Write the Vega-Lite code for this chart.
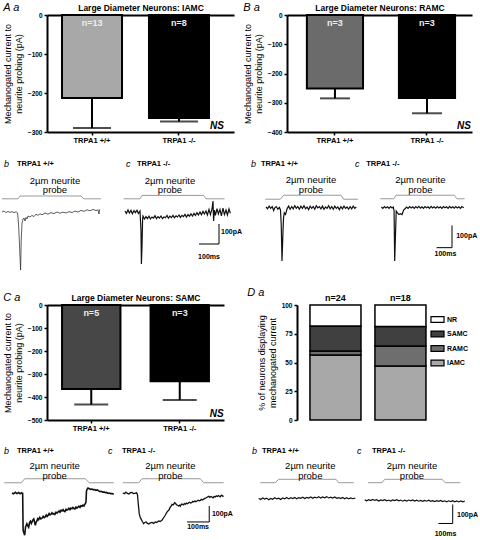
{
"$schema": "https://vega.github.io/schema/vega-lite/v6.json",
"padding": {"left": 0, "top": 2, "right": 0, "bottom": 0},
"autosize": {"type": "pad"},
"spacing": 14,
"resolve": {"scale": {"fill": "independent"}, "legend": {"fill": "independent"}},
"config": {
 "font": "Liberation Sans",
 "view": {"stroke": null},
 "axis": {"domainColor": "#000", "domainWidth": 2, "tickColor": "#000", "tickWidth": 1.5, "tickSize": 3, "labelColor": "#000", "labelFontSize": 6.5, "labelFontWeight": "bold", "labelPadding": 2, "labelOverlap": false, "titleColor": "#000", "titleFontSize": 9, "titleFontWeight": "normal", "titlePadding": 4, "grid": false},
 "title": {"color": "#000"},
 "text": {"color": "#000"}
},
"vconcat": [
 {"bounds": "flush", "spacing": 53, "resolve": {"scale": {"fill": "independent"}, "legend": {"fill": "independent"}}, "hconcat": [
  {"width": 187, "height": 117,
   "title": {"text": "A a", "anchor": "start", "frame": "bounds", "fontSize": 11, "fontStyle": "italic", "fontWeight": "normal", "offset": -10},
   "data": {"values": [
     {"genotype": "TRPA1 +/+", "mean": -213, "lower": -290, "n": "n=13"},
     {"genotype": "TRPA1 -/-", "mean": -264, "lower": -273, "n": "n=8"}]},
   "resolve": {"axis": {"x": "independent"}},
   "layer": [
    {"mark": {"type": "rule", "strokeWidth": 2, "color": "black"}, "encoding": {"x": {"field": "genotype", "type": "nominal", "axis": null}, "y": {"field": "mean", "type": "quantitative", "scale": {"domain": [-300, 0], "nice": false}, "axis": {"title": ["Mechanogated current to", "neurite probing (pA)"], "values": [0, -100, -200, -300], "labelFlush": false, "labelOverlap": false}}, "y2": {"field": "lower"}}},
    {"mark": {"type": "tick", "thickness": 2, "size": 38, "color": "black"}, "encoding": {"x": {"field": "genotype", "type": "nominal", "axis": null}, "y": {"field": "lower", "type": "quantitative", "axis": {"title": ["Mechanogated current to", "neurite probing (pA)"], "values": [0, -100, -200, -300], "labelFlush": false, "labelOverlap": false}}}},
    {"mark": {"type": "bar", "stroke": "black", "strokeWidth": 2},
     "encoding": {
      "x": {"field": "genotype", "type": "nominal", "scale": {"paddingInner": 0.31, "paddingOuter": 0.23, "align": 0.375}, "axis": {"title": null, "labelAngle": 0, "labelFontSize": 7.5, "labelPadding": 1}},
      "y": {"field": "mean", "type": "quantitative", "axis": {"title": ["Mechanogated current to", "neurite probing (pA)"], "values": [0, -100, -200, -300], "labelFlush": false, "labelOverlap": false}},
      "fill": {"field": "genotype", "type": "nominal", "scale": {"range": ["#a8a8a8", "#000000"]}, "legend": null}}},
    {"mark": {"type": "text", "baseline": "top", "dy": 4, "fontSize": 9, "fontWeight": "bold", "color": "#eeeeee"}, "encoding": {"x": {"field": "genotype", "type": "nominal", "axis": {"orient": "top", "title": "Large Diameter Neurons: IAMC", "labels": false, "ticks": false, "titleFontSize": 8.5, "titleFontWeight": "bold", "titlePadding": 3}}, "y": {"datum": 0, "type": "quantitative", "axis": {"title": ["Mechanogated current to", "neurite probing (pA)"], "values": [0, -100, -200, -300], "labelFlush": false, "labelOverlap": false}}, "text": {"field": "n"}}},
    {"data": {"values": [{"stat": "NS"}]}, "mark": {"type": "text", "align": "right", "baseline": "bottom", "dx": 45, "dy": -1, "fontSize": 10, "fontWeight": "bold", "fontStyle": "italic"}, "encoding": {"x": {"datum": "TRPA1 -/-", "axis": null}, "y": {"datum": -300, "type": "quantitative", "axis": {"title": ["Mechanogated current to", "neurite probing (pA)"], "values": [0, -100, -200, -300], "labelFlush": false, "labelOverlap": false}}, "text": {"field": "stat"}}}
   ]},
  {"width": 185, "height": 117,
   "title": {"text": "B a", "anchor": "start", "frame": "bounds", "fontSize": 11, "fontStyle": "italic", "fontWeight": "normal", "offset": -10},
   "data": {"values": [
     {"genotype": "TRPA1 +/+", "mean": -251, "lower": -285, "n": "n=3"},
     {"genotype": "TRPA1 -/-", "mean": -284, "lower": -336, "n": "n=3"}]},
   "resolve": {"axis": {"x": "independent"}},
   "layer": [
    {"mark": {"type": "rule", "strokeWidth": 2, "color": "black"}, "encoding": {"x": {"field": "genotype", "type": "nominal", "axis": null}, "y": {"field": "mean", "type": "quantitative", "scale": {"domain": [-400, 0], "nice": false}, "axis": {"title": ["Mechanogated current to", "neurite probing (pA)"], "values": [0, -100, -200, -300, -400], "labelFlush": false, "labelOverlap": false}}, "y2": {"field": "lower"}}},
    {"mark": {"type": "tick", "thickness": 2, "size": 30, "color": "black"}, "encoding": {"x": {"field": "genotype", "type": "nominal", "axis": null}, "y": {"field": "lower", "type": "quantitative", "axis": {"title": ["Mechanogated current to", "neurite probing (pA)"], "values": [0, -100, -200, -300, -400], "labelFlush": false, "labelOverlap": false}}}},
    {"mark": {"type": "bar", "stroke": "black", "strokeWidth": 2},
     "encoding": {
      "x": {"field": "genotype", "type": "nominal", "scale": {"paddingInner": 0.39, "paddingOuter": 0.2, "align": 0.54}, "axis": {"title": null, "labelAngle": 0, "labelFontSize": 7.5, "labelPadding": 1}},
      "y": {"field": "mean", "type": "quantitative", "axis": {"title": ["Mechanogated current to", "neurite probing (pA)"], "values": [0, -100, -200, -300, -400], "labelFlush": false, "labelOverlap": false}},
      "fill": {"field": "genotype", "type": "nominal", "scale": {"range": ["#6b6b6b", "#000000"]}, "legend": null}}},
    {"mark": {"type": "text", "baseline": "top", "dy": 4, "fontSize": 9, "fontWeight": "bold", "color": "#eeeeee"}, "encoding": {"x": {"field": "genotype", "type": "nominal", "axis": {"orient": "top", "title": "Large Diameter Neurons: RAMC", "labels": false, "ticks": false, "titleFontSize": 8.5, "titleFontWeight": "bold", "titlePadding": 3}}, "y": {"datum": 0, "type": "quantitative", "axis": {"title": ["Mechanogated current to", "neurite probing (pA)"], "values": [0, -100, -200, -300, -400], "labelFlush": false, "labelOverlap": false}}, "text": {"field": "n"}}},
    {"data": {"values": [{"stat": "NS"}]}, "mark": {"type": "text", "align": "right", "baseline": "bottom", "dx": 44, "dy": -1, "fontSize": 10, "fontWeight": "bold", "fontStyle": "italic"}, "encoding": {"x": {"datum": "TRPA1 -/-", "axis": null}, "y": {"datum": -400, "type": "quantitative", "axis": {"title": ["Mechanogated current to", "neurite probing (pA)"], "values": [0, -100, -200, -300, -400], "labelFlush": false, "labelOverlap": false}}, "text": {"field": "stat"}}}
   ]}
 ]},
 {"bounds": "flush", "spacing": 0, "hconcat": [
  {"width": 75, "height": 115,
   "data": {"values": [{"panel": "b", "genotype": "TRPA1 +/+", "probe": "2µm neurite\nprobe"}]},
   "layer": [
    {"data": {"values": [{"t":0,"i":61},{"t":80,"i":61},{"t":90,"i":75},{"t":395,"i":75},{"t":410,"i":61},{"t":495,"i":61}]},
     "mark": {"type": "line", "color": "#999999", "strokeWidth": 1},
     "encoding": {"x": {"field": "t", "type": "quantitative", "scale": {"domain": [225, 600], "nice": false, "zero": false}, "axis": null}, "y": {"field": "i", "type": "quantitative", "scale": {"domain": [-310, 265], "nice": false, "zero": false}, "axis": null}}},
    {"data": {"values": [{"t":0,"i":-5},{"t":10,"i":0},{"t":20,"i":-8},{"t":30,"i":-2},{"t":40,"i":-7},{"t":50,"i":-3},{"t":60,"i":-8},{"t":70,"i":-4},{"t":78,"i":-10},{"t":83,"i":-70},{"t":88,"i":-180},{"t":93,"i":-295},{"t":96,"i":-150},{"t":100,"i":-60},{"t":105,"i":-40},{"t":110,"i":-35},{"t":115,"i":-50},{"t":120,"i":-32},{"t":125,"i":-40},{"t":130,"i":-25},{"t":140,"i":-30},{"t":150,"i":-22},{"t":160,"i":-28},{"t":170,"i":-16},{"t":180,"i":-22},{"t":190,"i":-14},{"t":200,"i":-19},{"t":215,"i":-10},{"t":230,"i":-16},{"t":245,"i":-8},{"t":260,"i":-13},{"t":275,"i":-5},{"t":290,"i":-11},{"t":305,"i":-6},{"t":320,"i":-10},{"t":335,"i":-3},{"t":350,"i":-8},{"t":365,"i":0},{"t":380,"i":-5},{"t":395,"i":3},{"t":410,"i":-2},{"t":425,"i":6},{"t":440,"i":1},{"t":455,"i":8},{"t":470,"i":2},{"t":480,"i":6},{"t":485,"i":-15},{"t":488,"i":8}]},
     "mark": {"type": "line", "color": "#333333", "strokeWidth": 0.8},
     "encoding": {"x": {"field": "t", "type": "quantitative", "axis": null}, "y": {"field": "i", "type": "quantitative", "axis": null}}},
    {"mark": {"type": "text", "fontStyle": "italic", "fontSize": 9, "align": "left", "baseline": "middle"}, "encoding": {"x": {"datum": 10, "axis": null}, "y": {"datum": 236.5, "axis": null}, "text": {"field": "panel"}}},
    {"mark": {"type": "text", "fontWeight": "bold", "fontSize": 7.5, "align": "left", "baseline": "middle"}, "encoding": {"x": {"datum": 75, "axis": null}, "y": {"datum": 236.5, "axis": null}, "text": {"field": "genotype"}}},
    {"mark": {"type": "text", "fontSize": 9.5, "align": "center", "baseline": "alphabetic", "lineBreak": "\n", "lineHeight": 9.5}, "encoding": {"x": {"datum": 265, "axis": null}, "y": {"datum": 137.5, "axis": null}, "text": {"field": "probe"}}}
   ]},
  {"width": 120, "height": 115,
   "data": {"values": [{"panel": "c", "genotype": "TRPA1 -/-", "probe": "2µm neurite\nprobe", "vbar": "100pA", "hbar": "100ms"}]},
   "layer": [
    {"data": {"values": [{"t":8,"i":61},{"t":90,"i":61},{"t":100,"i":78},{"t":408,"i":78},{"t":420,"i":61},{"t":513,"i":61}]},
     "mark": {"type": "line", "color": "#999999", "strokeWidth": 1},
     "encoding": {"x": {"field": "t", "type": "quantitative", "scale": {"domain": [0, 600], "nice": false, "zero": false}, "axis": null}, "y": {"field": "i", "type": "quantitative", "scale": {"domain": [-310, 265], "nice": false, "zero": false}, "axis": null}}},
    {"data": {"values": [{"t":15,"i":0},{"t":22,"i":-12},{"t":30,"i":5},{"t":37,"i":-10},{"t":45,"i":3},{"t":52,"i":-14},{"t":60,"i":2},{"t":67,"i":-8},{"t":75,"i":4},{"t":82,"i":-12},{"t":90,"i":0},{"t":95,"i":-100},{"t":97,"i":-265},{"t":100,"i":-180},{"t":103,"i":-40},{"t":105,"i":-25},{"t":112,"i":-40},{"t":120,"i":-28},{"t":127,"i":-38},{"t":135,"i":-26},{"t":142,"i":-40},{"t":150,"i":-30},{"t":157,"i":-36},{"t":165,"i":-24},{"t":172,"i":-38},{"t":180,"i":-28},{"t":187,"i":-35},{"t":195,"i":-25},{"t":202,"i":-38},{"t":210,"i":-30},{"t":217,"i":-34},{"t":225,"i":-22},{"t":232,"i":-36},{"t":240,"i":-26},{"t":247,"i":-33},{"t":255,"i":-22},{"t":262,"i":-34},{"t":270,"i":-24},{"t":277,"i":-30},{"t":285,"i":-20},{"t":292,"i":-32},{"t":300,"i":-22},{"t":307,"i":-28},{"t":315,"i":-17},{"t":322,"i":-30},{"t":330,"i":-18},{"t":337,"i":-26},{"t":345,"i":-14},{"t":352,"i":-25},{"t":360,"i":-12},{"t":367,"i":-22},{"t":375,"i":-8},{"t":382,"i":-20},{"t":390,"i":-5},{"t":397,"i":-18},{"t":405,"i":-2},{"t":412,"i":-15},{"t":420,"i":0},{"t":427,"i":-20},{"t":435,"i":8},{"t":442,"i":-18},{"t":450,"i":10},{"t":455,"i":50},{"t":458,"i":-50},{"t":462,"i":5},{"t":467,"i":-22},{"t":475,"i":12},{"t":482,"i":-15},{"t":490,"i":8},{"t":497,"i":-25},{"t":505,"i":15},{"t":512,"i":-18},{"t":520,"i":5},{"t":527,"i":-20},{"t":535,"i":10},{"t":542,"i":-12}]},
     "mark": {"type": "line", "color": "#111111", "strokeWidth": 1.2},
     "encoding": {"x": {"field": "t", "type": "quantitative", "axis": null}, "y": {"field": "i", "type": "quantitative", "axis": null}}},
    {"mark": {"type": "text", "fontStyle": "italic", "fontSize": 9, "align": "left", "baseline": "middle"}, "encoding": {"x": {"datum": 20, "axis": null}, "y": {"datum": 236.5, "axis": null}, "text": {"field": "panel"}}},
    {"mark": {"type": "text", "fontWeight": "bold", "fontSize": 7.5, "align": "left", "baseline": "middle"}, "encoding": {"x": {"datum": 75, "axis": null}, "y": {"datum": 236.5, "axis": null}, "text": {"field": "genotype"}}},
    {"mark": {"type": "text", "fontSize": 9.5, "align": "center", "baseline": "alphabetic", "lineBreak": "\n", "lineHeight": 9.5}, "encoding": {"x": {"datum": 240, "axis": null}, "y": {"datum": 137.5, "axis": null}, "text": {"field": "probe"}}},
    {"mark": {"type": "rule", "color": "#000", "strokeWidth": 1}, "encoding": {"x": {"datum": 485, "axis": null}, "y": {"datum": -65, "axis": null}, "y2": {"datum": -165}}},
    {"mark": {"type": "rule", "color": "#000", "strokeWidth": 1}, "encoding": {"x": {"datum": 385, "axis": null}, "x2": {"datum": 485}, "y": {"datum": -165, "axis": null}}},
    {"mark": {"type": "text", "fontWeight": "bold", "fontSize": 7, "align": "left", "baseline": "middle"}, "encoding": {"x": {"datum": 495, "axis": null}, "y": {"datum": -105, "axis": null}, "text": {"field": "vbar"}}},
    {"mark": {"type": "text", "fontWeight": "bold", "fontSize": 7, "align": "center", "baseline": "middle"}, "encoding": {"x": {"datum": 435, "axis": null}, "y": {"datum": -228, "axis": null}, "text": {"field": "hbar"}}}
   ]},
  {"width": 115, "height": 115,
   "data": {"values": [{"panel": "b", "genotype": "TRPA1 +/+", "probe": "2µm neurite\nprobe"}]},
   "layer": [
    {"data": {"values": [{"t":151,"i":53},{"t":249,"i":53},{"t":271,"i":71},{"t":644,"i":71},{"t":660,"i":53},{"t":753,"i":53}]},
     "mark": {"type": "line", "color": "#999999", "strokeWidth": 1},
     "encoding": {"x": {"field": "t", "type": "quantitative", "scale": {"domain": [0, 747.5], "nice": false, "zero": false}, "axis": null}, "y": {"field": "i", "type": "quantitative", "scale": {"domain": [-279, 238.5], "nice": false, "zero": false}, "axis": null}}},
    {"data": {"values": [{"t":156,"i":18},{"t":166,"i":10},{"t":176,"i":22},{"t":186,"i":12},{"t":196,"i":20},{"t":206,"i":2},{"t":213,"i":14},{"t":223,"i":20},{"t":233,"i":8},{"t":243,"i":16},{"t":250,"i":5},{"t":255,"i":-60},{"t":260,"i":-225},{"t":265,"i":-120},{"t":270,"i":-30},{"t":275,"i":-8},{"t":283,"i":-15},{"t":293,"i":10},{"t":303,"i":22},{"t":313,"i":8},{"t":323,"i":20},{"t":333,"i":10},{"t":343,"i":24},{"t":353,"i":12},{"t":363,"i":20},{"t":373,"i":8},{"t":383,"i":22},{"t":393,"i":12},{"t":403,"i":24},{"t":413,"i":10},{"t":423,"i":18},{"t":433,"i":6},{"t":443,"i":22},{"t":453,"i":12},{"t":463,"i":20},{"t":473,"i":8},{"t":483,"i":24},{"t":493,"i":14},{"t":503,"i":20},{"t":513,"i":10},{"t":523,"i":22},{"t":533,"i":8},{"t":543,"i":18},{"t":553,"i":12},{"t":563,"i":24},{"t":573,"i":10},{"t":583,"i":20},{"t":593,"i":8},{"t":603,"i":22},{"t":613,"i":12},{"t":623,"i":18},{"t":633,"i":6},{"t":643,"i":20},{"t":653,"i":10},{"t":663,"i":22},{"t":673,"i":12},{"t":683,"i":18},{"t":693,"i":8},{"t":703,"i":20},{"t":713,"i":10},{"t":723,"i":22},{"t":733,"i":12},{"t":743,"i":18}]},
     "mark": {"type": "line", "color": "#111111", "strokeWidth": 1.2},
     "encoding": {"x": {"field": "t", "type": "quantitative", "axis": null}, "y": {"field": "i", "type": "quantitative", "axis": null}}},
    {"mark": {"type": "text", "fontStyle": "italic", "fontSize": 9, "align": "left", "baseline": "middle"}, "encoding": {"x": {"datum": 58.5, "axis": null}, "y": {"datum": 213, "axis": null}, "text": {"field": "panel"}}},
    {"mark": {"type": "text", "fontWeight": "bold", "fontSize": 7.5, "align": "left", "baseline": "middle"}, "encoding": {"x": {"datum": 123, "axis": null}, "y": {"datum": 213, "axis": null}, "text": {"field": "genotype"}}},
    {"mark": {"type": "text", "fontSize": 9.5, "align": "center", "baseline": "alphabetic", "lineBreak": "\n", "lineHeight": 9.5}, "encoding": {"x": {"datum": 448.5, "axis": null}, "y": {"datum": 124, "axis": null}, "text": {"field": "probe"}}}
   ]},
  {"width": 125, "height": 115,
   "data": {"values": [{"panel": "c", "genotype": "TRPA1 -/-", "probe": "2µm neurite\nprobe", "vbar": "100pA", "hbar": "100ms"}]},
   "layer": [
    {"data": {"values": [{"t":151,"i":55},{"t":239,"i":55},{"t":254,"i":71},{"t":632,"i":71},{"t":650,"i":55},{"t":700,"i":55}]},
     "mark": {"type": "line", "color": "#999999", "strokeWidth": 1},
     "encoding": {"x": {"field": "t", "type": "quantitative", "scale": {"domain": [0, 812.5], "nice": false, "zero": false}, "axis": null}, "y": {"field": "i", "type": "quantitative", "scale": {"domain": [-279, 238.5], "nice": false, "zero": false}, "axis": null}}},
    {"data": {"values": [{"t":158,"i":18},{"t":168,"i":12},{"t":178,"i":20},{"t":188,"i":14},{"t":198,"i":19},{"t":208,"i":12},{"t":218,"i":20},{"t":228,"i":14},{"t":236,"i":18},{"t":241,"i":0},{"t":245,"i":-225},{"t":250,"i":-110},{"t":255,"i":0},{"t":263,"i":-8},{"t":273,"i":-16},{"t":283,"i":-12},{"t":293,"i":-16},{"t":303,"i":4},{"t":312,"i":10},{"t":322,"i":18},{"t":332,"i":12},{"t":342,"i":20},{"t":352,"i":14},{"t":362,"i":19},{"t":372,"i":12},{"t":382,"i":20},{"t":392,"i":14},{"t":402,"i":21},{"t":412,"i":13},{"t":422,"i":19},{"t":432,"i":12},{"t":442,"i":20},{"t":452,"i":15},{"t":462,"i":19},{"t":472,"i":12},{"t":482,"i":21},{"t":492,"i":14},{"t":502,"i":19},{"t":512,"i":13},{"t":522,"i":20},{"t":532,"i":14},{"t":542,"i":19},{"t":552,"i":12},{"t":562,"i":20},{"t":572,"i":15},{"t":582,"i":19},{"t":592,"i":12},{"t":602,"i":21},{"t":612,"i":14},{"t":622,"i":19},{"t":632,"i":13},{"t":642,"i":20},{"t":652,"i":14},{"t":662,"i":19},{"t":672,"i":12},{"t":682,"i":20},{"t":694,"i":15}]},
     "mark": {"type": "line", "color": "#111111", "strokeWidth": 1.2},
     "encoding": {"x": {"field": "t", "type": "quantitative", "axis": null}, "y": {"field": "i", "type": "quantitative", "axis": null}}},
    {"mark": {"type": "text", "fontStyle": "italic", "fontSize": 9, "align": "left", "baseline": "middle"}, "encoding": {"x": {"datum": -13, "axis": null}, "y": {"datum": 213, "axis": null}, "text": {"field": "panel"}}},
    {"mark": {"type": "text", "fontWeight": "bold", "fontSize": 7.5, "align": "left", "baseline": "middle"}, "encoding": {"x": {"datum": 60, "axis": null}, "y": {"datum": 213, "axis": null}, "text": {"field": "genotype"}}},
    {"mark": {"type": "text", "fontSize": 9.5, "align": "center", "baseline": "alphabetic", "lineBreak": "\n", "lineHeight": 9.5}, "encoding": {"x": {"datum": 411.5, "axis": null}, "y": {"datum": 124, "axis": null}, "text": {"field": "probe"}}},
    {"mark": {"type": "rule", "color": "#000", "strokeWidth": 1}, "encoding": {"x": {"datum": 617.5, "axis": null}, "y": {"datum": -65, "axis": null}, "y2": {"datum": -165}}},
    {"mark": {"type": "rule", "color": "#000", "strokeWidth": 1}, "encoding": {"x": {"datum": 517.5, "axis": null}, "x2": {"datum": 617.5}, "y": {"datum": -165, "axis": null}}},
    {"mark": {"type": "text", "fontWeight": "bold", "fontSize": 7, "align": "left", "baseline": "middle"}, "encoding": {"x": {"datum": 645, "axis": null}, "y": {"datum": -112, "axis": null}, "text": {"field": "vbar"}}},
    {"mark": {"type": "text", "fontWeight": "bold", "fontSize": 7, "align": "center", "baseline": "middle"}, "encoding": {"x": {"datum": 575, "axis": null}, "y": {"datum": -193, "axis": null}, "text": {"field": "hbar"}}}
   ]}
 ]},
 {"bounds": "flush", "spacing": 73, "resolve": {"scale": {"fill": "independent"}, "legend": {"fill": "independent"}}, "hconcat": [
  {"width": 177, "height": 115,
   "title": {"text": "C a", "anchor": "start", "frame": "bounds", "fontSize": 11, "fontStyle": "italic", "fontWeight": "normal", "offset": -10},
   "data": {"values": [
     {"genotype": "TRPA1 +/+", "mean": -365, "lower": -433, "n": "n=5"},
     {"genotype": "TRPA1 -/-", "mean": -332, "lower": -413, "n": "n=3"}]},
   "resolve": {"axis": {"x": "independent"}},
   "layer": [
    {"mark": {"type": "rule", "strokeWidth": 2, "color": "black"}, "encoding": {"x": {"field": "genotype", "type": "nominal", "axis": null}, "y": {"field": "mean", "type": "quantitative", "scale": {"domain": [-500, 0], "nice": false}, "axis": {"title": ["Mechanogated current to", "neurite probing (pA)"], "values": [0, -100, -200, -300, -400, -500], "labelFlush": false, "labelOverlap": false}}, "y2": {"field": "lower"}}},
    {"mark": {"type": "tick", "thickness": 2, "size": 34, "color": "black"}, "encoding": {"x": {"field": "genotype", "type": "nominal", "axis": null}, "y": {"field": "lower", "type": "quantitative", "axis": {"title": ["Mechanogated current to", "neurite probing (pA)"], "values": [0, -100, -200, -300, -400, -500], "labelFlush": false, "labelOverlap": false}}}},
    {"mark": {"type": "bar", "stroke": "black", "strokeWidth": 2},
     "encoding": {
      "x": {"field": "genotype", "type": "nominal", "scale": {"paddingInner": 0.34, "paddingOuter": 0.17, "align": 0.5}, "axis": {"title": null, "labelAngle": 0, "labelFontSize": 7.5, "labelPadding": 1}},
      "y": {"field": "mean", "type": "quantitative", "axis": {"title": ["Mechanogated current to", "neurite probing (pA)"], "values": [0, -100, -200, -300, -400, -500], "labelFlush": false, "labelOverlap": false}},
      "fill": {"field": "genotype", "type": "nominal", "scale": {"range": ["#474747", "#000000"]}, "legend": null}}},
    {"mark": {"type": "text", "baseline": "top", "dy": 4, "fontSize": 9, "fontWeight": "bold", "color": "#eeeeee"}, "encoding": {"x": {"field": "genotype", "type": "nominal", "axis": {"orient": "top", "title": "Large Diameter Neurons: SAMC", "labels": false, "ticks": false, "titleFontSize": 8.5, "titleFontWeight": "bold", "titlePadding": 3}}, "y": {"datum": 0, "type": "quantitative", "axis": {"title": ["Mechanogated current to", "neurite probing (pA)"], "values": [0, -100, -200, -300, -400, -500], "labelFlush": false, "labelOverlap": false}}, "text": {"field": "n"}}},
    {"data": {"values": [{"stat": "NS"}]}, "mark": {"type": "text", "align": "right", "baseline": "bottom", "dx": 44, "dy": -1, "fontSize": 10, "fontWeight": "bold", "fontStyle": "italic"}, "encoding": {"x": {"datum": "TRPA1 -/-", "axis": null}, "y": {"datum": -500, "type": "quantitative", "axis": {"title": ["Mechanogated current to", "neurite probing (pA)"], "values": [0, -100, -200, -300, -400, -500], "labelFlush": false, "labelOverlap": false}}, "text": {"field": "stat"}}}
   ]},
  {"width": 152, "height": 115,
   "title": {"text": "D a", "anchor": "start", "frame": "bounds", "fontSize": 11, "fontStyle": "italic", "fontWeight": "normal", "offset": -4, "dx": -10},
   "layer": [
    {"data": {"values": [
      {"genotype": "TRPA1 +/+", "type": "IAMC", "rank": 1, "percent": 56.5},
      {"genotype": "TRPA1 +/+", "type": "RAMC", "rank": 2, "percent": 3.5},
      {"genotype": "TRPA1 +/+", "type": "SAMC", "rank": 3, "percent": 21.7},
      {"genotype": "TRPA1 +/+", "type": "NR", "rank": 4, "percent": 18.3},
      {"genotype": "TRPA1 -/-", "type": "IAMC", "rank": 1, "percent": 47},
      {"genotype": "TRPA1 -/-", "type": "RAMC", "rank": 2, "percent": 17.3},
      {"genotype": "TRPA1 -/-", "type": "SAMC", "rank": 3, "percent": 16.9},
      {"genotype": "TRPA1 -/-", "type": "NR", "rank": 4, "percent": 18.8}]},
     "mark": {"type": "bar", "stroke": "black", "strokeWidth": 1.5},
     "encoding": {
      "x": {"field": "genotype", "type": "nominal", "scale": {"paddingInner": 0.215, "paddingOuter": 0.277, "align": 0.36}, "axis": {"title": null, "labelAngle": 0, "labelFontSize": 7.5, "labelPadding": 1}},
      "y": {"field": "percent", "type": "quantitative", "stack": "zero", "scale": {"domain": [0, 100], "nice": false}, "axis": {"title": ["% of neurons displaying", "mechanogated current"], "values": [0, 25, 50, 75, 100], "labelFlush": false, "labelOverlap": false}},
      "fill": {"field": "type", "type": "nominal", "scale": {"domain": ["NR", "SAMC", "RAMC", "IAMC"], "range": ["#ffffff", "#404040", "#6e6e6e", "#a8a8a8"]},
       "legend": {"orient": "none", "legendX": 133, "legendY": 7, "title": null, "symbolType": "M-1,-0.45H1V0.45H-1Z", "symbolSize": 170, "symbolStrokeColor": "#000", "symbolStrokeWidth": 1.2, "labelFontSize": 7, "labelFontWeight": "bold", "labelColor": "#000", "rowPadding": 1.5, "labelOffset": 2}},
      "order": {"field": "rank", "type": "quantitative"}}},
    {"data": {"values": [{"genotype": "TRPA1 +/+", "n": "n=24"}, {"genotype": "TRPA1 -/-", "n": "n=18"}]},
     "mark": {"type": "text", "baseline": "bottom", "dy": -2, "fontSize": 9, "fontWeight": "bold"},
     "encoding": {"x": {"field": "genotype", "type": "nominal", "axis": null}, "y": {"datum": 100, "type": "quantitative", "axis": {"title": ["% of neurons displaying", "mechanogated current"], "values": [0, 25, 50, 75, 100], "labelFlush": false, "labelOverlap": false}}, "text": {"field": "n"}}}
   ]}
 ]},
 {"bounds": "flush", "spacing": 0, "hconcat": [
  {"width": 70, "height": 91,
   "data": {"values": [{"panel": "b", "genotype": "TRPA1 +/+", "probe": "2µm neurite\nprobe"}]},
   "layer": [
    {"data": {"values": [{"t":10,"i":64},{"t":87,"i":64},{"t":102,"i":89},{"t":375,"i":89},{"t":393,"i":64},{"t":503,"i":64}]},
     "mark": {"type": "line", "color": "#999999", "strokeWidth": 1},
     "encoding": {"x": {"field": "t", "type": "quantitative", "scale": {"domain": [202.5, 517.5], "nice": false, "zero": false}, "axis": null}, "y": {"field": "i", "type": "quantitative", "scale": {"domain": [-275, 293.75], "nice": false, "zero": false}, "axis": null}}},
    {"data": {"values": [{"t":45,"i":0},{"t":52,"i":-5},{"t":60,"i":4},{"t":67,"i":-4},{"t":75,"i":3},{"t":82,"i":-5},{"t":88,"i":2},{"t":93,"i":-3},{"t":95,"i":-233},{"t":102,"i":-264},{"t":106,"i":-212},{"t":112,"i":-192},{"t":116,"i":-205},{"t":120,"i":-214},{"t":124,"i":-185},{"t":128,"i":-176},{"t":132,"i":-190},{"t":135,"i":-181},{"t":139,"i":-168},{"t":143,"i":-162},{"t":147,"i":-185},{"t":150,"i":-202},{"t":154,"i":-180},{"t":157,"i":-175},{"t":161,"i":-160},{"t":165,"i":-167},{"t":170,"i":-152},{"t":175,"i":-162},{"t":180,"i":-158},{"t":185,"i":-146},{"t":190,"i":-154},{"t":194,"i":-150},{"t":199,"i":-138},{"t":203,"i":-146},{"t":207,"i":-140},{"t":212,"i":-128},{"t":216,"i":-137},{"t":221,"i":-133},{"t":225,"i":-124},{"t":230,"i":-132},{"t":234,"i":-128},{"t":238,"i":-134},{"t":243,"i":-120},{"t":248,"i":-126},{"t":252,"i":-119},{"t":257,"i":-112},{"t":261,"i":-120},{"t":266,"i":-108},{"t":270,"i":-112},{"t":275,"i":-104},{"t":279,"i":-113},{"t":283,"i":-116},{"t":288,"i":-102},{"t":292,"i":-108},{"t":297,"i":-103},{"t":301,"i":-96},{"t":306,"i":-104},{"t":310,"i":-94},{"t":315,"i":-98},{"t":319,"i":-90},{"t":324,"i":-97},{"t":328,"i":-100},{"t":333,"i":-88},{"t":337,"i":-94},{"t":342,"i":-88},{"t":346,"i":-82},{"t":351,"i":-90},{"t":355,"i":-80},{"t":360,"i":-83},{"t":364,"i":-76},{"t":369,"i":-81},{"t":373,"i":-70},{"t":376,"i":-64},{"t":378,"i":-56},{"t":380,"i":10},{"t":382,"i":21},{"t":387,"i":31},{"t":393,"i":27},{"t":399,"i":23},{"t":405,"i":25},{"t":411,"i":20},{"t":417,"i":22},{"t":423,"i":17},{"t":429,"i":19},{"t":435,"i":13},{"t":441,"i":9},{"t":447,"i":11},{"t":453,"i":5},{"t":459,"i":7},{"t":465,"i":2},{"t":471,"i":4},{"t":477,"i":-2},{"t":483,"i":0},{"t":489,"i":-4},{"t":495,"i":-3},{"t":503,"i":-8}]},
     "mark": {"type": "line", "color": "#111111", "strokeWidth": 1.6},
     "encoding": {"x": {"field": "t", "type": "quantitative", "axis": null}, "y": {"field": "i", "type": "quantitative", "axis": null}}},
    {"mark": {"type": "text", "fontStyle": "italic", "fontSize": 9, "align": "left", "baseline": "middle"}, "encoding": {"x": {"datum": 9, "axis": null}, "y": {"datum": 262.5, "axis": null}, "text": {"field": "panel"}}},
    {"mark": {"type": "text", "fontWeight": "bold", "fontSize": 7.5, "align": "left", "baseline": "middle"}, "encoding": {"x": {"datum": 67.5, "axis": null}, "y": {"datum": 262.5, "axis": null}, "text": {"field": "genotype"}}},
    {"mark": {"type": "text", "fontSize": 9.5, "align": "center", "baseline": "alphabetic", "lineBreak": "\n", "lineHeight": 9.5}, "encoding": {"x": {"datum": 237, "axis": null}, "y": {"datum": 148, "axis": null}, "text": {"field": "probe"}}}
   ]},
  {"width": 125, "height": 91,
   "data": {"values": [{"panel": "c", "genotype": "TRPA1 -/-", "probe": "2µm neurite\nprobe", "vbar": "100pA", "hbar": "100ms"}]},
   "layer": [
    {"data": {"values": [{"t":26,"i":64},{"t":98,"i":64},{"t":112,"i":89},{"t":375,"i":89},{"t":390,"i":64},{"t":480,"i":64}]},
     "mark": {"type": "line", "color": "#999999", "strokeWidth": 1},
     "encoding": {"x": {"field": "t", "type": "quantitative", "scale": {"domain": [0, 562.5], "nice": false, "zero": false}, "axis": null}, "y": {"field": "i", "type": "quantitative", "scale": {"domain": [-275, 293.75], "nice": false, "zero": false}, "axis": null}}},
    {"data": {"values": [{"t":26,"i":0},{"t":33,"i":-4},{"t":40,"i":5},{"t":47,"i":-3},{"t":54,"i":-6},{"t":60,"i":2},{"t":67,"i":3},{"t":74,"i":-4},{"t":81,"i":-3},{"t":87,"i":2},{"t":92,"i":-8},{"t":95,"i":-56},{"t":100,"i":-129},{"t":104,"i":-150},{"t":108,"i":-162},{"t":114,"i":-178},{"t":120,"i":-192},{"t":125,"i":-184},{"t":131,"i":-181},{"t":137,"i":-190},{"t":143,"i":-194},{"t":150,"i":-186},{"t":158,"i":-184},{"t":165,"i":-190},{"t":172,"i":-181},{"t":179,"i":-184},{"t":187,"i":-175},{"t":194,"i":-178},{"t":202,"i":-171},{"t":207,"i":-160},{"t":212,"i":-150},{"t":217,"i":-139},{"t":221,"i":-128},{"t":225,"i":-119},{"t":229,"i":-112},{"t":233,"i":-108},{"t":237,"i":-96},{"t":240,"i":-88},{"t":244,"i":-80},{"t":248,"i":-71},{"t":252,"i":-74},{"t":256,"i":-69},{"t":259,"i":-60},{"t":262,"i":-62},{"t":266,"i":-70},{"t":270,"i":-75},{"t":274,"i":-78},{"t":277,"i":-81},{"t":281,"i":-76},{"t":285,"i":-83},{"t":289,"i":-72},{"t":292,"i":-69},{"t":298,"i":-74},{"t":303,"i":-66},{"t":307,"i":-71},{"t":312,"i":-63},{"t":317,"i":-67},{"t":322,"i":-62},{"t":327,"i":-58},{"t":332,"i":-63},{"t":337,"i":-59},{"t":341,"i":-52},{"t":345,"i":-56},{"t":350,"i":-50},{"t":355,"i":-54},{"t":360,"i":-50},{"t":365,"i":-45},{"t":370,"i":-49},{"t":375,"i":-46},{"t":380,"i":-40},{"t":385,"i":-44},{"t":390,"i":-38},{"t":396,"i":-34},{"t":402,"i":-30},{"t":407,"i":-25},{"t":413,"i":-21},{"t":418,"i":-27},{"t":423,"i":-22},{"t":427,"i":-25},{"t":432,"i":-30},{"t":437,"i":-22},{"t":442,"i":-25},{"t":447,"i":-18},{"t":452,"i":-22},{"t":457,"i":-16},{"t":461,"i":-20},{"t":465,"i":-24},{"t":469,"i":-15},{"t":472,"i":-14},{"t":476,"i":-20},{"t":480,"i":-19}]},
     "mark": {"type": "line", "color": "#111111", "strokeWidth": 1.3},
     "encoding": {"x": {"field": "t", "type": "quantitative", "axis": null}, "y": {"field": "i", "type": "quantitative", "axis": null}}},
    {"mark": {"type": "text", "fontStyle": "italic", "fontSize": 9, "align": "left", "baseline": "middle"}, "encoding": {"x": {"datum": -40.5, "axis": null}, "y": {"datum": 262.5, "axis": null}, "text": {"field": "panel"}}},
    {"mark": {"type": "text", "fontWeight": "bold", "fontSize": 7.5, "align": "left", "baseline": "middle"}, "encoding": {"x": {"datum": 22.5, "axis": null}, "y": {"datum": 262.5, "axis": null}, "text": {"field": "genotype"}}},
    {"mark": {"type": "text", "fontSize": 9.5, "align": "center", "baseline": "alphabetic", "lineBreak": "\n", "lineHeight": 9.5}, "encoding": {"x": {"datum": 240, "axis": null}, "y": {"datum": 148, "axis": null}, "text": {"field": "probe"}}},
    {"mark": {"type": "rule", "color": "#000", "strokeWidth": 1}, "encoding": {"x": {"datum": 415, "axis": null}, "y": {"datum": -81, "axis": null}, "y2": {"datum": -181}}},
    {"mark": {"type": "rule", "color": "#000", "strokeWidth": 1}, "encoding": {"x": {"datum": 315, "axis": null}, "x2": {"datum": 415}, "y": {"datum": -181, "axis": null}}},
    {"mark": {"type": "text", "fontWeight": "bold", "fontSize": 7, "align": "left", "baseline": "middle"}, "encoding": {"x": {"datum": 427, "axis": null}, "y": {"datum": -131, "axis": null}, "text": {"field": "vbar"}}},
    {"mark": {"type": "text", "fontWeight": "bold", "fontSize": 7, "align": "center", "baseline": "middle"}, "encoding": {"x": {"datum": 365, "axis": null}, "y": {"datum": -212, "axis": null}, "text": {"field": "hbar"}}}
   ]},
  {"width": 115, "height": 91,
   "data": {"values": [{"panel": "b", "genotype": "TRPA1 +/+", "probe": "2µm neurite\nprobe"}]},
   "layer": [
    {"data": {"values": [{"t":128,"i":54},{"t":233,"i":54},{"t":257,"i":72},{"t":658,"i":72},{"t":677,"i":54},{"t":782,"i":54}]},
     "mark": {"type": "line", "color": "#999999", "strokeWidth": 1},
     "encoding": {"x": {"field": "t", "type": "quantitative", "scale": {"domain": [0, 805], "nice": false, "zero": false}, "axis": null}, "y": {"field": "i", "type": "quantitative", "scale": {"domain": [-231, 246.75], "nice": false, "zero": false}, "axis": null}}},
    {"data": {"values": [{"t":117,"i":-28},{"t":131,"i":-34},{"t":145,"i":-26},{"t":159,"i":-32},{"t":173,"i":-27},{"t":187,"i":-35},{"t":201,"i":-29},{"t":215,"i":-33},{"t":229,"i":-25},{"t":243,"i":-31},{"t":257,"i":-27},{"t":271,"i":-34},{"t":285,"i":-26},{"t":299,"i":-30},{"t":313,"i":-24},{"t":327,"i":-31},{"t":341,"i":-25},{"t":355,"i":-29},{"t":369,"i":-23},{"t":383,"i":-30},{"t":397,"i":-24},{"t":411,"i":-28},{"t":425,"i":-22},{"t":439,"i":-29},{"t":453,"i":-23},{"t":467,"i":-27},{"t":481,"i":-21},{"t":495,"i":-28},{"t":509,"i":-22},{"t":523,"i":-26},{"t":537,"i":-20},{"t":551,"i":-27},{"t":565,"i":-21},{"t":579,"i":-25},{"t":593,"i":-19},{"t":607,"i":-26},{"t":621,"i":-22},{"t":635,"i":-27},{"t":649,"i":-21},{"t":663,"i":-28},{"t":677,"i":-24},{"t":691,"i":-29},{"t":705,"i":-23},{"t":719,"i":-30},{"t":733,"i":-25},{"t":747,"i":-31},{"t":761,"i":-26},{"t":775,"i":-30},{"t":793,"i":-27}]},
     "mark": {"type": "line", "color": "#111111", "strokeWidth": 1.2},
     "encoding": {"x": {"field": "t", "type": "quantitative", "axis": null}, "y": {"field": "i", "type": "quantitative", "axis": null}}},
    {"mark": {"type": "text", "fontStyle": "italic", "fontSize": 9, "align": "left", "baseline": "middle"}, "encoding": {"x": {"datum": 70, "axis": null}, "y": {"datum": 220.5, "axis": null}, "text": {"field": "panel"}}},
    {"mark": {"type": "text", "fontWeight": "bold", "fontSize": 7.5, "align": "left", "baseline": "middle"}, "encoding": {"x": {"datum": 140, "axis": null}, "y": {"datum": 220.5, "axis": null}, "text": {"field": "genotype"}}},
    {"mark": {"type": "text", "fontSize": 9.5, "align": "center", "baseline": "alphabetic", "lineBreak": "\n", "lineHeight": 9.5}, "encoding": {"x": {"datum": 478, "axis": null}, "y": {"datum": 124, "axis": null}, "text": {"field": "probe"}}}
   ]},
  {"width": 125, "height": 91,
   "data": {"values": [{"panel": "c", "genotype": "TRPA1 -/-", "probe": "2µm neurite\nprobe", "vbar": "100pA", "hbar": "100ms"}]},
   "layer": [
    {"data": {"values": [{"t":77,"i":54},{"t":175,"i":54},{"t":194,"i":72},{"t":595,"i":72},{"t":618,"i":54},{"t":723,"i":54}]},
     "mark": {"type": "line", "color": "#999999", "strokeWidth": 1},
     "encoding": {"x": {"field": "t", "type": "quantitative", "scale": {"domain": [0, 875], "nice": false, "zero": false}, "axis": null}, "y": {"field": "i", "type": "quantitative", "scale": {"domain": [-231, 246.75], "nice": false, "zero": false}, "axis": null}}},
    {"data": {"values": [{"t":54,"i":-36},{"t":68,"i":-41},{"t":82,"i":-35},{"t":96,"i":-40},{"t":110,"i":-34},{"t":124,"i":-39},{"t":138,"i":-35},{"t":152,"i":-42},{"t":166,"i":-36},{"t":180,"i":-40},{"t":194,"i":-35},{"t":208,"i":-41},{"t":222,"i":-37},{"t":236,"i":-42},{"t":250,"i":-36},{"t":264,"i":-40},{"t":278,"i":-35},{"t":292,"i":-41},{"t":306,"i":-37},{"t":320,"i":-43},{"t":334,"i":-38},{"t":348,"i":-42},{"t":362,"i":-37},{"t":376,"i":-41},{"t":390,"i":-36},{"t":404,"i":-42},{"t":418,"i":-38},{"t":432,"i":-43},{"t":446,"i":-39},{"t":460,"i":-44},{"t":474,"i":-39},{"t":488,"i":-43},{"t":502,"i":-38},{"t":516,"i":-44},{"t":530,"i":-40},{"t":544,"i":-45},{"t":558,"i":-40},{"t":572,"i":-44},{"t":586,"i":-39},{"t":600,"i":-45},{"t":614,"i":-41},{"t":628,"i":-46},{"t":642,"i":-41},{"t":656,"i":-45},{"t":670,"i":-40},{"t":684,"i":-46},{"t":698,"i":-42},{"t":712,"i":-47},{"t":726,"i":-42},{"t":740,"i":-46},{"t":754,"i":-43}]},
     "mark": {"type": "line", "color": "#111111", "strokeWidth": 1.2},
     "encoding": {"x": {"field": "t", "type": "quantitative", "axis": null}, "y": {"field": "i", "type": "quantitative", "axis": null}}},
    {"mark": {"type": "text", "fontStyle": "italic", "fontSize": 9, "align": "left", "baseline": "middle"}, "encoding": {"x": {"datum": 0, "axis": null}, "y": {"datum": 220.5, "axis": null}, "text": {"field": "panel"}}},
    {"mark": {"type": "text", "fontWeight": "bold", "fontSize": 7.5, "align": "left", "baseline": "middle"}, "encoding": {"x": {"datum": 105, "axis": null}, "y": {"datum": 220.5, "axis": null}, "text": {"field": "genotype"}}},
    {"mark": {"type": "text", "fontSize": 9.5, "align": "center", "baseline": "alphabetic", "lineBreak": "\n", "lineHeight": 9.5}, "encoding": {"x": {"datum": 385, "axis": null}, "y": {"datum": 124, "axis": null}, "text": {"field": "probe"}}},
    {"mark": {"type": "rule", "color": "#000", "strokeWidth": 1}, "encoding": {"x": {"datum": 670, "axis": null}, "y": {"datum": -60, "axis": null}, "y2": {"datum": -160}}},
    {"mark": {"type": "rule", "color": "#000", "strokeWidth": 1}, "encoding": {"x": {"datum": 570, "axis": null}, "x2": {"datum": 670}, "y": {"datum": -160, "axis": null}}},
    {"mark": {"type": "text", "fontWeight": "bold", "fontSize": 7, "align": "left", "baseline": "middle"}, "encoding": {"x": {"datum": 700, "axis": null}, "y": {"datum": -115, "axis": null}, "text": {"field": "vbar"}}},
    {"mark": {"type": "text", "fontWeight": "bold", "fontSize": 7, "align": "center", "baseline": "middle"}, "encoding": {"x": {"datum": 620, "axis": null}, "y": {"datum": -217, "axis": null}, "text": {"field": "hbar"}}}
   ]}
 ]}
]
}
